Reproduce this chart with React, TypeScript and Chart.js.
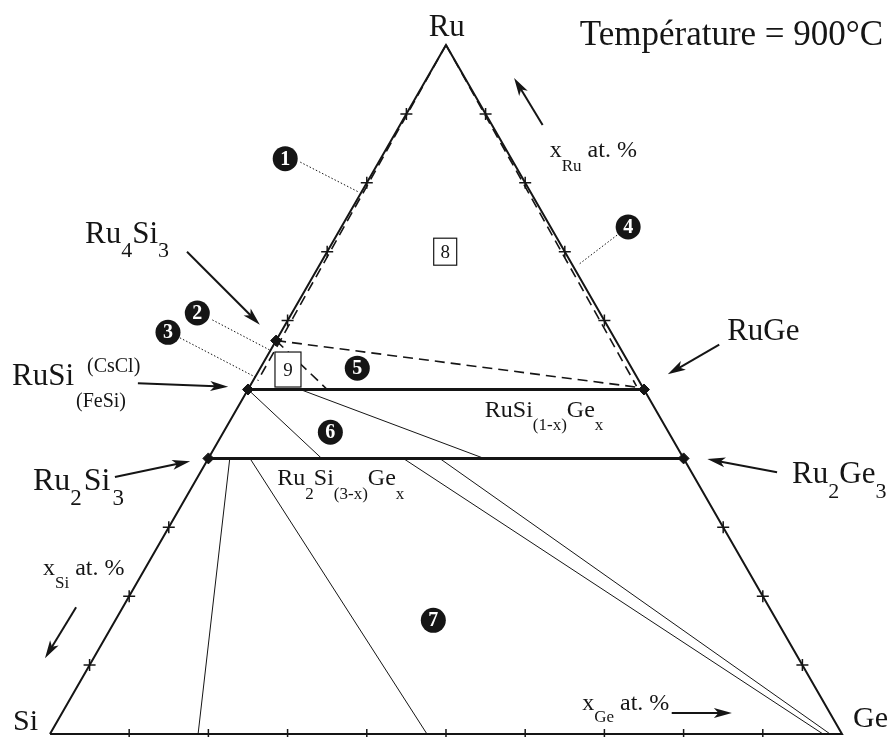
import React, { useEffect, useRef } from 'react';
import { Chart, registerables } from 'chart.js';

Chart.register(...registerables);

// Compositions are [Ru, Si, Ge] in at.%
type Comp = [number, number, number];

const phaseNames = ['Ru4Si3', 'RuSi', 'Ru2Si3', 'RuGe', 'Ru2Ge3'];
const phaseComps: Comp[] = [
  [57.1, 42.9, 0],
  [50, 50, 0],
  [40, 60, 0],
  [50, 0, 50],
  [40, 0, 60],
];

const triangleComps: Comp[] = [
  [0, 100, 0],
  [0, 0, 100],
  [100, 0, 0],
  [0, 100, 0],
];

// solid-solution lines RuSi(1-x)Gex and Ru2Si(3-x)Gex
const solidSolutionLines: Comp[][] = [
  [[50, 50, 0], [50, 0, 50]],
  [[40, 60, 0], [40, 0, 60]],
];

// thin tie lines
const tieLines: Comp[][] = [
  [[50, 50, 0], [40, 45.7, 14.3]],
  [[50, 43.4, 6.6], [40, 25.2, 34.8]],
  [[40, 57.3, 2.7], [0, 81.3, 18.7]],
  [[40, 54.75, 5.25], [0, 52.4, 47.6]],
  [[40, 35.4, 24.6], [0, 2.4, 97.6]],
  [[40, 30.8, 29.2], [0, 1.5, 98.5]],
];

// dashed boundaries
const dashedLines: Comp[][] = [
  [[100, 0, 0], [51.3, 48.1, 0.6]],
  [[100, 0, 0], [50.5, 0.7, 48.8]],
  [[57.1, 42.9, 0], [50.3, 0.5, 49.2]],
  [[57.1, 42.9, 0], [50, 40, 10]],
];

// graduation marks
const edgeTickRu = [10, 20, 30, 60, 70, 80, 90];
const baseTickGe = [10, 20, 30, 40, 50, 60, 70, 80, 90];

// region numbers (circled) and boxed numbers
const regionNumbers = ['1', '2', '3', '4', '5', '6', '7'];
const boxNumbers = ['8', '9'];

const toXY = (c: Comp) => ({ x: c[2] + c[0] / 2, y: c[0] });

const INK = '#151515';
const SERIF = '"Liberation Serif", "Times New Roman", serif';

type Run = { t: string; s: number; dy?: number; dx?: number; adv?: boolean };

// annotation layout, in plot coordinates (x = Ge + Ru/2, y = Ru)
const textLabels: { x: number; y: number; runs: Run[]; align?: 'left' | 'center' | 'right' }[] = [
  { x: 50.1, y: 101.3, runs: [{ t: 'Ru', s: 31 }], align: 'center' },
  { x: 105.2, y: 100.0, runs: [{ t: 'Température = 900°C', s: 35 }], align: 'right' },
  { x: 63.1, y: 83.7, runs: [{ t: 'x', s: 24 }, { t: 'Ru', s: 17, dy: 14 }, { t: ' at. %', s: 24 }] },
  { x: 4.42, y: 71.3, runs: [{ t: 'Ru', s: 31 }, { t: '4', s: 22, dy: 14 }, { t: 'Si', s: 31 }, { t: '3', s: 22, dy: 14 }] },
  {
    x: -4.8, y: 50.65,
    runs: [
      { t: 'RuSi', s: 31 },
      { t: '(CsCl)', s: 20, dy: -13, dx: 13, adv: false },
      { t: '(FeSi)', s: 20, dy: 22, dx: 2 },
    ],
  },
  { x: 85.5, y: 57.2, runs: [{ t: 'RuGe', s: 31 }] },
  { x: 54.9, y: 46.0, runs: [{ t: 'RuSi', s: 24 }, { t: '(1-x)', s: 17, dy: 13 }, { t: 'Ge', s: 24 }, { t: 'x', s: 17, dy: 13 }] },
  { x: -2.15, y: 35.4, runs: [{ t: 'Ru', s: 32 }, { t: '2', s: 23, dy: 15 }, { t: 'Si', s: 32, dx: 2 }, { t: '3', s: 23, dy: 15, dx: 2 }] },
  {
    x: 28.7, y: 36.1,
    runs: [
      { t: 'Ru', s: 24 }, { t: '2', s: 17, dy: 14 }, { t: 'Si', s: 24 },
      { t: '(3-x)', s: 17, dy: 14 }, { t: 'Ge', s: 24 }, { t: 'x', s: 17, dy: 14 },
    ],
  },
  { x: 93.7, y: 36.4, runs: [{ t: 'Ru', s: 31 }, { t: '2', s: 22, dy: 15 }, { t: 'Ge', s: 31 }, { t: '3', s: 22, dy: 15 }] },
  { x: -0.88, y: 23.1, runs: [{ t: 'x', s: 24 }, { t: 'Si', s: 17, dy: 13 }, { t: ' at. %', s: 24 }] },
  { x: -4.67, y: 0.58, runs: [{ t: 'Si', s: 30 }] },
  { x: 101.4, y: 1.02, runs: [{ t: 'Ge', s: 30 }] },
  { x: 67.2, y: 3.48, runs: [{ t: 'x', s: 24 }, { t: 'Ge', s: 17, dy: 12 }, { t: ' at. %', s: 24 }] },
];

const circleSpots = [
  { x: 29.7, y: 83.5 },
  { x: 18.6, y: 61.1 },
  { x: 14.9, y: 58.3 },
  { x: 73.0, y: 73.6 },
  { x: 38.8, y: 53.1 },
  { x: 35.4, y: 43.8 },
  { x: 48.4, y: 16.5 },
];

const leaderLines = [
  [31.6, 83.0, 38.9, 78.7],
  [20.5, 60.1, 27.8, 55.7],
  [16.4, 57.5, 26.1, 51.7],
  [71.6, 72.4, 66.7, 68.1],
];

const arrowLines = [
  [62.2, 88.4, 58.6, 95.2],
  [17.3, 70.0, 26.5, 59.4],
  [11.1, 50.9, 22.5, 50.4],
  [84.5, 56.5, 78.0, 52.2],
  [8.2, 37.3, 17.7, 39.6],
  [91.8, 38.0, 83.0, 39.9],
  [3.3, 18.4, -0.63, 11.0],
  [78.5, 3.05, 86.1, 3.05],
];

const boxSpots = [
  { x: 49.9, y: 70.0, w: 23, h: 27 },
  { x: 30.05, y: 52.9, w: 26, h: 35 },
];

function drawArrow(ctx: CanvasRenderingContext2D, x1: number, y1: number, x2: number, y2: number) {
  const a = Math.atan2(y2 - y1, x2 - x1);
  const L = 18;
  const W = 5;
  const c = Math.cos(a);
  const s = Math.sin(a);
  ctx.lineWidth = 2;
  ctx.beginPath();
  ctx.moveTo(x1, y1);
  ctx.lineTo(x2 - L * 0.7 * c, y2 - L * 0.7 * s);
  ctx.stroke();
  ctx.beginPath();
  ctx.moveTo(x2, y2);
  ctx.lineTo(x2 - L * c + W * s, y2 - L * s - W * c);
  ctx.lineTo(x2 - L * 0.75 * c, y2 - L * 0.75 * s);
  ctx.lineTo(x2 - L * c - W * s, y2 - L * s + W * c);
  ctx.closePath();
  ctx.fill();
}

const annotationPlugin = {
  id: 'annotations',
  beforeDraw(chart: any) {
    const ctx = chart.ctx as CanvasRenderingContext2D;
    ctx.save();
    ctx.fillStyle = '#ffffff';
    ctx.fillRect(0, 0, chart.width, chart.height);
    ctx.restore();
  },
  afterDraw(chart: any) {
    const ctx = chart.ctx as CanvasRenderingContext2D;
    const X = (v: number) => chart.scales.x.getPixelForValue(v);
    const Y = (v: number) => chart.scales.y.getPixelForValue(v);
    ctx.save();
    ctx.fillStyle = INK;
    ctx.strokeStyle = INK;

    // dotted leaders
    ctx.lineWidth = 1;
    ctx.setLineDash([1.5, 2]);
    leaderLines.forEach(([a, b, c, d]) => {
      ctx.beginPath();
      ctx.moveTo(X(a), Y(b));
      ctx.lineTo(X(c), Y(d));
      ctx.stroke();
    });
    ctx.setLineDash([]);

    // arrows
    arrowLines.forEach(([a, b, c, d]) => drawArrow(ctx, X(a), Y(b), X(c), Y(d)));

    // boxes
    boxSpots.forEach((b, i) => {
      const cx = X(b.x);
      const cy = Y(b.y);
      ctx.fillStyle = '#ffffff';
      ctx.fillRect(cx - b.w / 2, cy - b.h / 2, b.w, b.h);
      ctx.fillStyle = INK;
      ctx.lineWidth = 1.2;
      ctx.strokeRect(cx - b.w / 2, cy - b.h / 2, b.w, b.h);
      ctx.font = `19px ${SERIF}`;
      ctx.textAlign = 'center';
      ctx.textBaseline = 'middle';
      ctx.fillText(boxNumbers[i], cx, cy + 1);
    });

    // circled region numbers
    circleSpots.forEach((p, i) => {
      const cx = X(p.x);
      const cy = Y(p.y);
      ctx.fillStyle = INK;
      ctx.beginPath();
      ctx.arc(cx, cy, 12.5, 0, Math.PI * 2);
      ctx.fill();
      ctx.fillStyle = '#ffffff';
      ctx.font = `bold 20px ${SERIF}`;
      ctx.textAlign = 'center';
      ctx.textBaseline = 'middle';
      ctx.fillText(regionNumbers[i], cx, cy + 1);
    });

    // text labels
    ctx.fillStyle = INK;
    ctx.textBaseline = 'alphabetic';
    ctx.textAlign = 'left';
    textLabels.forEach((lab) => {
      let total = 0;
      lab.runs.forEach((r) => {
        ctx.font = `${r.s}px ${SERIF}`;
        if (r.adv !== false) total += ctx.measureText(r.t).width + (r.dx || 0);
      });
      let x = X(lab.x);
      if (lab.align === 'center') x -= total / 2;
      if (lab.align === 'right') x -= total;
      const y = Y(lab.y);
      lab.runs.forEach((r) => {
        ctx.font = `${r.s}px ${SERIF}`;
        const px = x + (r.dx || 0);
        ctx.fillText(r.t, px, y + (r.dy || 0));
        if (r.adv !== false) x = px + ctx.measureText(r.t).width;
      });
    });
    ctx.restore();
  },
};

export default function App() {
  const ref = useRef<HTMLCanvasElement>(null);

  useEffect(() => {
    if (!ref.current) return;
    const seg = (pts: Comp[], width: number, dash: number[] = []) => ({
      data: pts.map(toXY),
      showLine: true,
      borderColor: INK,
      backgroundColor: INK,
      borderWidth: width,
      borderDash: dash,
      pointRadius: 0,
      fill: false,
      tension: 0,
    });

    const datasets: any[] = [
      seg(triangleComps, 2),
      ...solidSolutionLines.map((l) => seg(l, 3)),
      ...tieLines.map((l) => seg(l, 1)),
      ...dashedLines.map((l) => seg(l, 1.6, [10, 6])),
      {
        data: [
          ...edgeTickRu.map((r) => toXY([r, 100 - r, 0])),
          ...edgeTickRu.map((r) => toXY([r, 0, 100 - r])),
        ],
        showLine: false,
        pointStyle: 'cross',
        pointRadius: 6,
        borderColor: INK,
        borderWidth: 1.5,
      },
      {
        data: baseTickGe.map((g) => toXY([0, 100 - g, g])),
        showLine: false,
        pointStyle: 'line',
        rotation: 90,
        pointRadius: 5,
        borderColor: INK,
        borderWidth: 1.5,
      },
      {
        label: phaseNames.join(','),
        data: phaseComps.map(toXY),
        showLine: false,
        pointStyle: 'rectRot',
        pointRadius: 5.5,
        backgroundColor: INK,
        borderColor: INK,
        borderWidth: 1,
      },
    ];

    const chart = new Chart(ref.current, {
      type: 'scatter',
      data: { datasets },
      options: {
        responsive: false,
        maintainAspectRatio: false,
        animation: false,
        layout: { padding: 0, autoPadding: false },
        plugins: { legend: { display: false }, tooltip: { enabled: false } },
        scales: {
          x: { type: 'linear', min: -6.31, max: 106.06, display: false },
          y: { type: 'linear', min: -0.435, max: 106.53, display: false },
        },
      },
      plugins: [annotationPlugin],
    });
    return () => chart.destroy();
  }, []);

  return (
    <div style={{ position: 'absolute', left: 0, top: 0, width: 890, height: 737, background: '#fff' }}>
      <canvas ref={ref} width={890} height={737} style={{ display: 'block', width: 890, height: 737 }} />
    </div>
  );
}
